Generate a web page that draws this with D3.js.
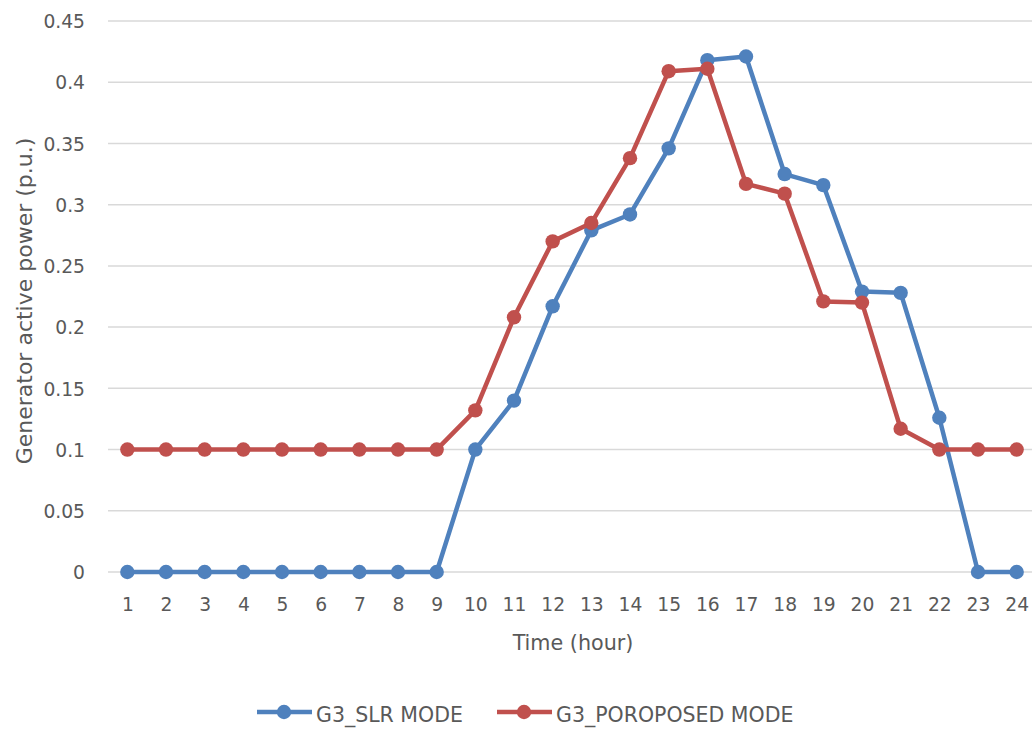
<!DOCTYPE html>
<html>
<head>
<meta charset="utf-8">
<script src="https://cdn.jsdelivr.net/npm/d3@7"></script>
<style>
  html, body { margin: 0; padding: 0; background: #fff; }
  svg { display: block; font-family: "DejaVu Sans", Verdana, sans-serif; }
</style>
</head>
<body>
<svg id="chart" width="1032" height="729"></svg>
<script>
// Hours of the day (category axis)
const hours = [1,2,3,4,5,6,7,8,9,10,11,12,13,14,15,16,17,18,19,20,21,22,23,24];

// Generator G3 active power (p.u.) per hour
const slrMode = [0,0,0,0,0,0,0,0,0,0.1,0.14,0.217,0.279,0.292,0.346,0.418,0.421,0.325,0.316,0.229,0.228,0.126,0,0];
const proposedMode = [0.1,0.1,0.1,0.1,0.1,0.1,0.1,0.1,0.1,0.132,0.208,0.27,0.285,0.338,0.409,0.411,0.317,0.309,0.221,0.22,0.117,0.1,0.1,0.1];

const yTicks = [0,0.05,0.1,0.15,0.2,0.25,0.3,0.35,0.4,0.45];
const seriesNames = ["G3_SLR MODE", "G3_POROPOSED MODE"];
const seriesColors = ["#4F81BD", "#C0504D"];

const svg = d3.select("#chart");
const plot = { left: 108, right: 1036, top: 21, bottom: 572 };

const x = d3.scalePoint().domain(hours).range([plot.left, plot.right]).padding(0.5);
const y = d3.scaleLinear().domain([0, 0.45]).range([plot.bottom, plot.top]);

const textColor = "#595959";

// Horizontal gridlines
svg.append("g").selectAll("line").data(yTicks).join("line")
  .attr("x1", plot.left).attr("x2", 1032)
  .attr("y1", d => y(d)).attr("y2", d => y(d))
  .attr("stroke", "#D9D9D9").attr("stroke-width", 1.5);

// Y axis labels
const yAxis = d3.axisLeft(y).tickValues(yTicks).tickSize(0).tickPadding(0)
  .tickFormat(d => String(+d.toFixed(2)));
const gy = svg.append("g").attr("transform", "translate(85,0)").call(yAxis);
gy.select(".domain").remove();
gy.selectAll("text").attr("fill", textColor).attr("dy", "0.36em")
  .style("font-size", "18.7px").style("font-family", "'DejaVu Sans', sans-serif");

// X axis labels
const xAxis = d3.axisBottom(x).tickSize(0).tickPadding(0);
const gx = svg.append("g").attr("transform", `translate(0,${plot.bottom})`).call(xAxis);
gx.select(".domain").remove();
gx.selectAll("text").attr("fill", textColor).attr("y", 39).attr("dy", null)
  .style("font-size", "18.7px").style("font-family", "'DejaVu Sans', sans-serif");

// Axis titles
svg.append("text").attr("x", 573).attr("y", 650).attr("text-anchor", "middle")
  .attr("fill", textColor).style("font-size", "20.7px").text("Time (hour)");
svg.append("text").attr("transform", "translate(32,301) rotate(-90)")
  .attr("text-anchor", "middle").attr("fill", textColor).style("font-size", "22px")
  .text("Generator active power (p.u.)");

// Series lines and markers
const line = d3.line().x((d, i) => x(hours[i])).y(d => y(d));
[slrMode, proposedMode].forEach((vals, si) => {
  const g = svg.append("g");
  g.append("path").datum(vals).attr("d", line)
    .attr("fill", "none").attr("stroke", seriesColors[si])
    .attr("stroke-width", 4.5).attr("stroke-linejoin", "round");
  g.selectAll("circle").data(vals).join("circle")
    .attr("cx", (d, i) => x(hours[i])).attr("cy", d => y(d))
    .attr("r", 7.2).attr("fill", seriesColors[si]);
});

// Legend
const legendItems = [{ x0: 257, tx: 316 }, { x0: 497, tx: 556 }];
legendItems.forEach((it, i) => {
  const g = svg.append("g");
  g.append("line").attr("x1", it.x0).attr("x2", it.x0 + 55)
    .attr("y1", 712).attr("y2", 712)
    .attr("stroke", seriesColors[i]).attr("stroke-width", 4.5);
  g.append("circle").attr("cx", it.x0 + 27).attr("cy", 712).attr("r", 7.2)
    .attr("fill", seriesColors[i]);
  g.append("text").attr("x", it.tx).attr("y", 722).attr("fill", textColor)
    .style("font-size", "20.5px").text(seriesNames[i]);
});
</script>
</body>
</html>
